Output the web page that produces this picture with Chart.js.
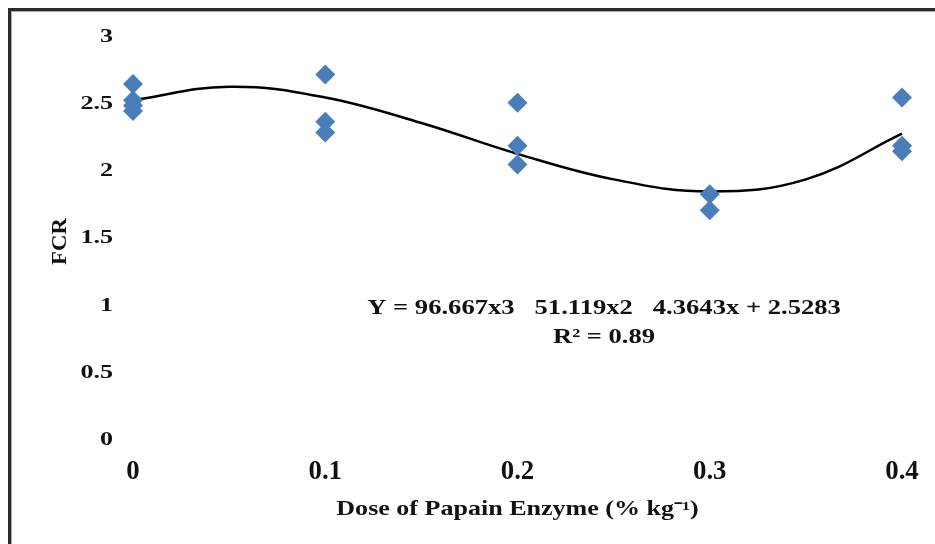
<!DOCTYPE html>
<html>
<head>
<meta charset="utf-8">
<script src="https://cdn.jsdelivr.net/npm/chart.js@4.4.1/dist/chart.umd.min.js"></script>
<style>
  html, body { margin: 0; padding: 0; background: #fff; }
  #wrap { position: relative; width: 935px; height: 544px; }
  #frame {
    position: absolute; left: 8px; top: 8px; right: -10px; bottom: -10px;
    border-top: 3px solid #2b2b2b; border-left: 3px solid #2b2b2b;
    box-shadow: inset 1px 1px 0 #aaa;
    pointer-events: none;
  }
</style>
</head>
<body>
<div id="wrap">
  <canvas id="myChart" width="935" height="544"></canvas>
  <div id="frame"></div>
</div>
<script>
// observed FCR values per dose (replicates)
const pointDose = [0, 0, 0, 0, 0.1, 0.1, 0.1, 0.2, 0.2, 0.2, 0.3, 0.3, 0.4, 0.4, 0.4];
const pointFCR  = [2.65, 2.53, 2.49, 2.45, 2.72, 2.37, 2.29, 2.51, 2.19, 2.05, 1.83, 1.71, 2.55, 2.19, 2.15];

// polynomial trend line
const trendDose = [0, 0.05, 0.1, 0.15, 0.2, 0.25, 0.3, 0.35, 0.4];
const trendFCR  = [2.53, 2.63, 2.55, 2.36, 2.13, 1.94, 1.85, 1.94, 2.28];

const xTicks = [0, 0.1, 0.2, 0.3, 0.4];
const yTicks = [0, 0.5, 1, 1.5, 2, 2.5, 3];

const xTitle = 'Dose of Papain Enzyme (% kg⁻¹)';
const yTitle = 'FCR';
const eqLine1 = 'Y = 96.667x3   51.119x2   4.3643x + 2.5283';
const eqLine2 = 'R² = 0.89';

const serif = '"Liberation Serif", "Times New Roman", serif';

// text in the source is a stretched Times bold, so draw it by hand
function stretchText(ctx, text, x, y, size, sx, sy, align, rot) {
    ctx.save();
    ctx.translate(x, y);
    if (rot) ctx.rotate(rot);
    ctx.scale(sx, sy);
    ctx.font = 'bold ' + size + 'px ' + serif;
    ctx.fillStyle = '#111';
    ctx.textAlign = align;
    ctx.textBaseline = 'middle';
    ctx.fillText(text, 0, 0);
    ctx.restore();
}

const textLayer = {
    id: 'textLayer',
    afterDraw(chart) {
        const { ctx, chartArea, scales: { x, y } } = chart;
        yTicks.forEach(v => {
            stretchText(ctx, String(v), chartArea.left - 20, y.getPixelForValue(v), 18, 1.45, 1.05, 'right');
        });
        xTicks.forEach(v => {
            stretchText(ctx, String(v), x.getPixelForValue(v), chartArea.bottom + 32, 22, 1.22, 1.25, 'center');
        });
        const midX = (chartArea.left + chartArea.right) / 2;
        const midY = (chartArea.top + chartArea.bottom) / 2;
        stretchText(ctx, xTitle, midX, chartArea.bottom + 70, 19, 1.37, 1.05, 'center');
        stretchText(ctx, yTitle, 61, midY + 3, 19, 1.2, 1.05, 'center', -Math.PI / 2);

        const cx = x.getPixelForValue(0.245);
        const cy = y.getPixelForValue(0.98);
        stretchText(ctx, eqLine1, cx, cy, 20, 1.33, 1.05, 'center');
        stretchText(ctx, eqLine2, cx, cy + 29, 20, 1.33, 1.05, 'center');
    }
};

const ctx = document.getElementById('myChart').getContext('2d');

const chart = new Chart(ctx, {
    type: 'scatter',
    data: {
        datasets: [
            {
                label: 'FCR',
                data: pointDose.map((d, i) => ({ x: d, y: pointFCR[i] })),
                pointStyle: 'rectRot',
                pointRadius: 10,
                pointBackgroundColor: '#4a7ebb',
                pointBorderColor: '#4a7ebb',
                pointBorderWidth: 0,
                clip: false,
            },
            {
                label: 'Poly. (FCR)',
                type: 'line',
                data: trendDose.map((d, i) => ({ x: d, y: trendFCR[i] })),
                borderColor: '#000',
                borderWidth: 2.5,
                pointRadius: 0,
                tension: 0.4,
                fill: false,
                clip: false,
            },
        ],
    },
    options: {
        responsive: false,
        animation: false,
        layout: { padding: { top: 37, right: 33, left: 0, bottom: 0 } },
        plugins: {
            legend: { display: false },
            tooltip: { enabled: false },
        },
        scales: {
            x: {
                type: 'linear',
                min: 0,
                max: 0.4,
                afterFit: (s) => { s.height = 104; },
                afterBuildTicks: (s) => { s.ticks = xTicks.map(v => ({ value: v })); },
                grid: { display: false, drawTicks: false },
                border: { display: false },
                ticks: { display: false },
            },
            y: {
                min: 0,
                max: 3,
                afterFit: (s) => { s.width = 133; },
                afterBuildTicks: (s) => { s.ticks = yTicks.map(v => ({ value: v })); },
                grid: { display: false, drawTicks: false },
                border: { display: false },
                ticks: { display: false },
            },
        },
    },
    plugins: [textLayer],
});
</script>
</body>
</html>
